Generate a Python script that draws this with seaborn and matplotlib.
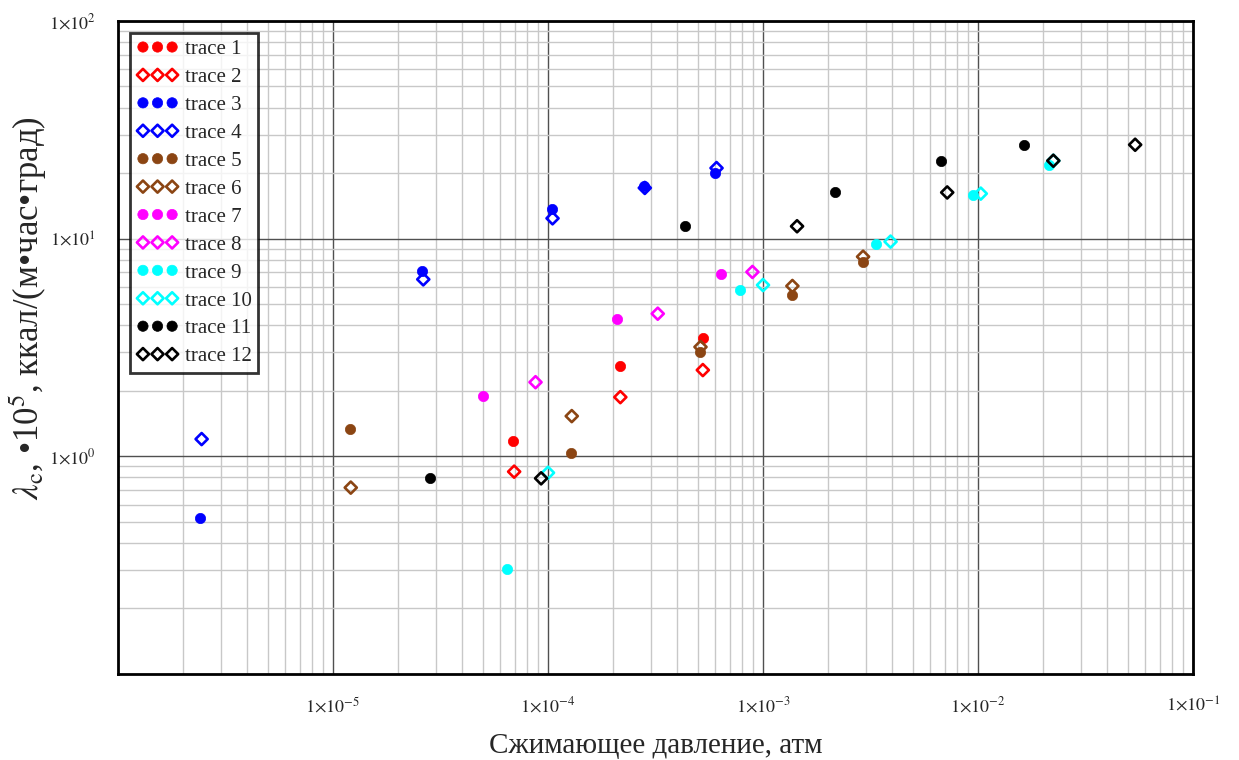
import numpy as np
import pandas as pd
import matplotlib
matplotlib.use('Agg')
import matplotlib.pyplot as plt
import matplotlib.ticker as mticker
import seaborn as sns

# ── data ─────────────────────────────────────────────────────────
names = ['trace 1', 'trace 2', 'trace 3', 'trace 4', 'trace 5', 'trace 6',
         'trace 7', 'trace 8', 'trace 9', 'trace 10', 'trace 11', 'trace 12']
colors = ['#ff0000', '#ff0000', '#0000ff', '#0000ff', '#8b4513', '#8b4513',
          '#ff00ff', '#ff00ff', '#00ffff', '#00ffff', '#000000', '#000000']

p1 = [6.9e-5, 2.16e-4, 5.24e-4]
l1 = [1.18, 2.61, 3.48]
p2 = [6.96e-5, 2.17e-4, 5.25e-4]
l2 = [0.85, 1.87, 2.49]
p3 = [2.41e-6, 2.60e-5, 1.04e-4, 2.81e-4, 6.01e-4]
l3 = [0.521, 7.10, 13.7, 17.4, 19.95]
p4 = [2.45e-6, 2.63e-5, 1.05e-4, 2.82e-4, 6.08e-4]
l4 = [1.20, 6.50, 12.4, 17.1, 21.1]
p5 = [1.20e-5, 1.28e-4, 5.12e-4, 1.37e-3, 2.92e-3]
l5 = [1.34, 1.04, 3.01, 5.51, 7.81]
p6 = [1.21e-5, 1.29e-4, 5.12e-4, 1.37e-3, 2.92e-3]
l6 = [0.718, 1.53, 3.18, 6.06, 8.26]
p7 = [5.0e-5, 2.10e-4, 6.41e-4]
l7 = [1.89, 4.29, 6.86]
p8 = [8.75e-5, 3.24e-4, 8.93e-4]
l8 = [2.19, 4.52, 7.03]
p9 = [6.45e-5, 7.83e-4, 3.37e-3, 9.5e-3, 2.13e-2]
l9 = [0.303, 5.83, 9.48, 15.9, 21.7]
p10 = [1.0e-4, 1.0e-3, 3.92e-3, 1.03e-2, 2.24e-2]
l10 = [0.84, 6.12, 9.69, 16.1, 22.8]
p11 = [2.82e-5, 4.35e-4, 2.16e-3, 6.72e-3, 1.63e-2]
l11 = [0.795, 11.4, 16.3, 22.7, 27.0]
p12 = [9.29e-5, 1.44e-3, 7.19e-3, 2.24e-2, 5.38e-2]
l12 = [0.792, 11.4, 16.3, 22.8, 27.0]

pressures = [p1, p2, p3, p4, p5, p6, p7, p8, p9, p10, p11, p12]
lambdas = [l1, l2, l3, l4, l5, l6, l7, l8, l9, l10, l11, l12]

# ── plot ─────────────────────────────────────────────────────────
sns.set_style('white')
plt.rcParams['font.family'] = ['Liberation Serif', 'DejaVu Serif']
plt.rcParams['mathtext.fontset'] = 'stix'

fig = plt.figure(figsize=(12.39, 7.6), dpi=100)
ax = fig.add_axes([0.0952, 0.1132, 0.8677, 0.8592])

for i, (name, c) in enumerate(zip(names, colors)):
    df = pd.DataFrame({'p': pressures[i], 'lam': lambdas[i]})
    if i % 2 == 0:
        sns.scatterplot(data=df, x='p', y='lam', ax=ax, marker='o', s=55,
                        color=c, edgecolor=c, linewidth=0.5, label=name,
                        legend=False, zorder=3)
    else:
        sns.scatterplot(data=df, x='p', y='lam', ax=ax, marker='D', s=38,
                        facecolor='none', edgecolor=c, linewidth=1.9,
                        label=name, legend=False, zorder=4)

ax.set_xscale('log')
ax.set_yscale('log')
ax.set_xlim(1e-6, 1e-1)
ax.set_ylim(1e-1, 1e2)

def sci(v, _):
    e = int(round(np.log10(v)))
    return r'$1{\times}10^{%d}$' % e

ax.xaxis.set_major_locator(mticker.FixedLocator([1e-5, 1e-4, 1e-3, 1e-2, 1e-1]))
ax.yaxis.set_major_locator(mticker.FixedLocator([1e0, 1e1, 1e2]))
ax.xaxis.set_major_formatter(mticker.FuncFormatter(sci))
ax.yaxis.set_major_formatter(mticker.FuncFormatter(sci))
ax.xaxis.set_minor_locator(mticker.LogLocator(base=10, subs=np.arange(2, 10), numticks=20))
ax.yaxis.set_minor_locator(mticker.LogLocator(base=10, subs=np.arange(2, 10), numticks=20))
ax.xaxis.set_minor_formatter(mticker.NullFormatter())
ax.yaxis.set_minor_formatter(mticker.NullFormatter())

ax.grid(which='minor', color='#c8c8c8', linewidth=1.0)
ax.grid(which='major', color='#505050', linewidth=1.0)
ax.set_axisbelow(True)
ax.tick_params(which='both', length=0)
ax.tick_params(axis='x', pad=16, labelsize=13)
ax.tick_params(axis='y', pad=16, labelsize=13)
for sp in ax.spines.values():
    sp.set_visible(True)
    sp.set_color('black')
    sp.set_linewidth(2)

ax.set_xlabel('Сжимающее давление, атм', fontsize=21, labelpad=12)
ax.set_ylabel(r'$\lambda_{\mathrm{c}}$, •10$^{5}$, ккал/(м•час•град)', fontsize=25)
ax.yaxis.set_label_coords(-0.064, 0.56)

leg = ax.legend(loc='upper left', scatterpoints=3, scatteryoffsets=[0.5],
                fontsize=15, frameon=True, fancybox=False, borderpad=0.3,
                labelspacing=0.4, handletextpad=0.3, handlelength=2.0,
                borderaxespad=0.6)
leg.get_frame().set_edgecolor('black')
leg.get_frame().set_linewidth(2)

plt.savefig('out.png', dpi=100)
